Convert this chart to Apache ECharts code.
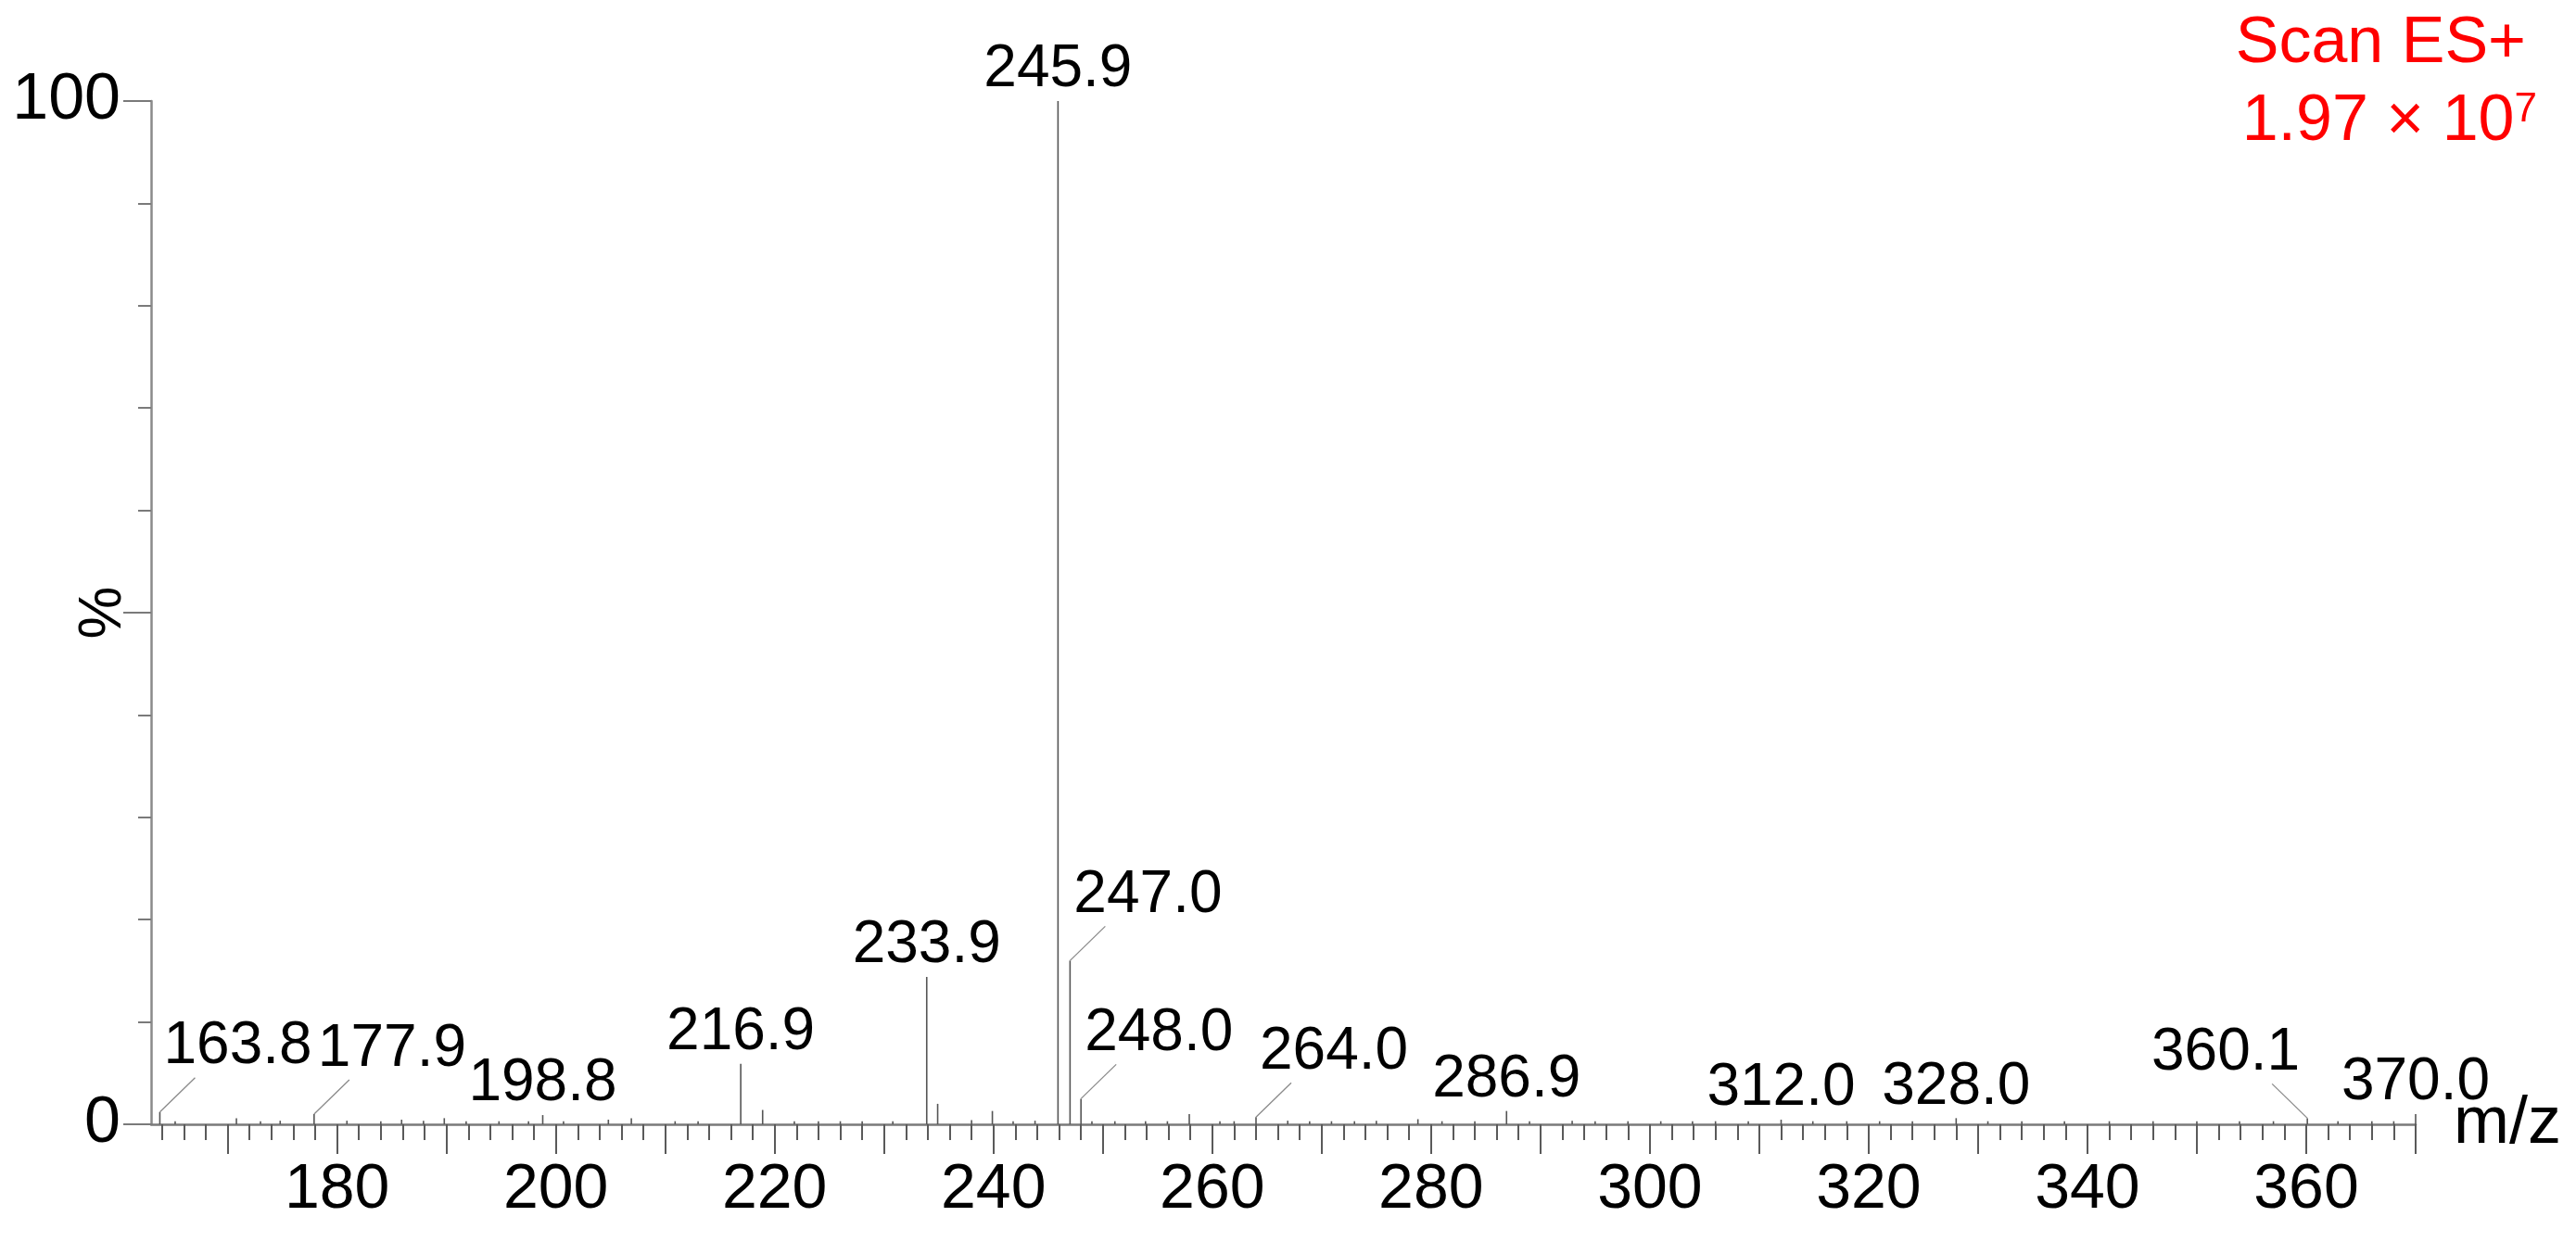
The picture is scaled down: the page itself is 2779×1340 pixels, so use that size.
<!DOCTYPE html>
<html>
<head>
<meta charset="utf-8">
<script src="https://cdn.jsdelivr.net/npm/echarts@6/dist/echarts.min.js"></script>
<style>
html,body{margin:0;padding:0;background:#ffffff;}
#chart{width:2779px;height:1340px;}
</style>
</head>
<body>
<div id="chart"></div>
<script>
// ---------------- data ----------------
const peakMz = [
  163.8, 165.2, 170.8, 173.0, 174.8, 177.9, 180.9, 184.0, 185.9, 187.9,
  189.8, 191.8, 194.8, 197.5, 198.8, 200.7, 204.8, 206.9, 210.9, 213.0,
  216.9, 218.9, 221.8, 224.0, 226.0, 228.0, 230.8, 233.9, 234.9, 238.0,
  239.9, 241.8, 243.8, 245.9, 247.0, 248.0, 249.0, 251.1, 253.9, 255.9,
  257.9, 260.7, 262.0, 264.0, 266.9, 268.9, 270.9, 273.0, 275.0, 278.8,
  281.0, 284.0, 286.9, 289.0, 292.9, 295.0, 298.0, 301.0, 303.9, 306.0,
  309.0, 312.0, 314.9, 318.0, 321.0, 324.0, 328.0, 330.9, 334.0, 337.9,
  342.0, 346.0, 350.0, 353.9, 357.0, 360.1, 362.9, 366.0, 368.0, 370.0
];
const peakIntensity = [
  1.2, 0.3, 0.6, 0.3, 0.35, 1.0, 0.35, 0.3, 0.45, 0.35,
  0.6, 0.3, 0.3, 0.3, 0.9, 0.3, 0.45, 0.6, 0.3, 0.3,
  5.9, 1.4, 0.3, 0.3, 0.3, 0.3, 0.3, 14.4, 2.0, 0.4,
  1.3, 0.3, 0.35, 100, 16.0, 2.5, 0.3, 0.3, 0.3, 0.3,
  1.0, 0.3, 0.3, 0.7, 0.35, 0.3, 0.3, 0.3, 0.35, 0.5,
  0.3, 0.3, 1.3, 0.3, 0.35, 0.3, 0.3, 0.3, 0.3, 0.3,
  0.3, 0.45, 0.3, 0.3, 0.3, 0.3, 0.6, 0.3, 0.3, 0.3,
  0.3, 0.3, 0.3, 0.3, 0.3, 0.6, 0.3, 0.3, 0.3, 1.0
];
const labeledMz = [163.8, 177.9, 198.8, 216.9, 233.9, 245.9, 247.0, 248.0, 264.0, 286.9, 312.0, 328.0, 360.1, 370.0];
const xMajorTicks = [170, 180, 190, 200, 210, 220, 230, 240, 250, 260, 270, 280, 290, 300, 310, 320, 330, 340, 350, 360, 370];
const xMinorTicks = [164, 166, 168, 170, 172, 174, 176, 178, 180, 182, 184, 186, 188, 190, 192, 194, 196, 198, 200,
  202, 204, 206, 208, 210, 212, 214, 216, 218, 220, 222, 224, 226, 228, 230, 232, 234, 236, 238, 240,
  242, 244, 246, 248, 250, 252, 254, 256, 258, 260, 262, 264, 266, 268, 270, 272, 274, 276, 278, 280,
  282, 284, 286, 288, 290, 292, 294, 296, 298, 300, 302, 304, 306, 308, 310, 312, 314, 316, 318, 320,
  322, 324, 326, 328, 330, 332, 334, 336, 338, 340, 342, 344, 346, 348, 350, 352, 354, 356, 358, 360,
  362, 364, 366, 368, 370];
const xTickLabels = [180, 200, 220, 240, 260, 280, 300, 320, 340, 360];
const yTickLabels = [0, 100];
const xAxisName = 'm/z';
const yAxisName = '%';
const scanMode = 'Scan ES+';
const ticBase = '1.97 × 10';
const ticExp = '7';

// ---------------- layout / style (not data) ----------------
const leaderSide = { '163.8': 'right', '177.9': 'right', '247.0': 'right', '248.0': 'right', '264.0': 'right', '360.1': 'left' };
const FONT = '"Liberation Sans", Arial, Helvetica, sans-serif';

function intensityOf(m) {
  let best = 0, d = Infinity;
  peakMz.forEach((p, i) => { if (Math.abs(p - m) < d) { d = Math.abs(p - m); best = i; } });
  return peakIntensity[best];
}

const chart = echarts.init(document.getElementById('chart'), null, { renderer: 'canvas' });

const option = {
  backgroundColor: '#ffffff',
  animation: false,
  grid: { left: 163, right: 173, top: 109, bottom: 127, containLabel: false, outerBoundsMode: 'none' },
  xAxis: [
    {
      type: 'value', min: 163, max: 370, position: 'bottom',
      name: xAxisName, nameLocation: 'end', nameGap: 41, nameMoveOverlap: false,
      nameTextStyle: { fontFamily: FONT, fontSize: 72, color: '#000', verticalAlign: 'middle', align: 'left' },
      axisLine: { show: true, lineStyle: { color: '#7a7a7a', width: 2.5 } },
      axisTick: { show: true, customValues: xMajorTicks, length: 32, lineStyle: { color: '#5a5a5a', width: 2 } },
      axisLabel: { show: true, customValues: xTickLabels, margin: 37, fontFamily: FONT, fontSize: 68, color: '#000' },
      splitLine: { show: false }
    },
    {
      type: 'value', min: 163, max: 370, position: 'bottom', offset: 0,
      axisLine: { show: false },
      axisTick: { show: true, customValues: xMinorTicks, length: 17, lineStyle: { color: '#5a5a5a', width: 2 } },
      axisLabel: { show: false },
      splitLine: { show: false }
    }
  ],
  yAxis: {
    type: 'value', min: 0, max: 100, interval: 50,
    name: yAxisName, nameLocation: 'middle', nameGap: 19, nameRotate: 90, nameMoveOverlap: false,
    nameTextStyle: { fontFamily: FONT, fontSize: 64, color: '#000' },
    axisLine: { show: true, lineStyle: { color: '#8a8a8a', width: 2.5 } },
    axisTick: { show: true, length: 30, lineStyle: { color: '#7a7a7a', width: 2 } },
    minorTick: { show: true, splitNumber: 5, length: 14, lineStyle: { color: '#7a7a7a', width: 2 } },
    axisLabel: { show: true, customValues: yTickLabels, margin: 33, fontFamily: FONT, fontSize: 70, color: '#000' },
    splitLine: { show: false },
    minorSplitLine: { show: false }
  },
  graphic: [
    { type: 'text', right: 54, top: 13, z: 10,
      style: { text: scanMode, font: '70px ' + FONT, fill: '#ff0000' } },
    { type: 'text', right: 42, top: 97, z: 10,
      style: {
        text: '{a|' + ticBase + '}{s|' + ticExp + '}',
        rich: {
          a: { fontSize: 70, fontFamily: FONT, fill: '#ff0000' },
          s: { fontSize: 44, fontFamily: FONT, fill: '#ff0000', verticalAlign: 'top' }
        }
      } }
  ],
  series: [
    {
      type: 'custom', name: 'peaks', xAxisIndex: 0, yAxisIndex: 0, clip: false,
      data: peakMz.map((m, i) => [m, peakIntensity[i]]),
      renderItem: function (params, api) {
        const m = api.value(0), v = api.value(1);
        const top = api.coord([m, v]);
        const base = api.coord([m, 0]);
        return { type: 'line', shape: { x1: top[0], y1: top[1], x2: base[0], y2: base[1] },
                 style: { stroke: '#555555', lineWidth: 1.6 } };
      }
    },
    {
      type: 'custom', name: 'labels', xAxisIndex: 0, yAxisIndex: 0, clip: false,
      data: labeledMz.map(m => [m, intensityOf(m)]),
      renderItem: function (params, api) {
        const m = api.value(0), v = api.value(1);
        const top = api.coord([m, v]);
        const txt = m.toFixed(1);
        const side = leaderSide[txt] || 'top';
        const font = '64px ' + FONT;
        const children = [];
        if (side === 'top') {
          children.push({ type: 'text', style: { text: txt, x: top[0], y: top[1] - 1.5, font: font, fill: '#000',
            align: 'center', verticalAlign: 'bottom', textAlign: 'center', textVerticalAlign: 'bottom' } });
        } else {
          const dir = side === 'right' ? 1 : -1;
          const ex = top[0] + dir * 38, ey = top[1] - 37;
          children.push({ type: 'line', shape: { x1: top[0], y1: top[1], x2: ex, y2: ey },
            style: { stroke: '#8a8a8a', lineWidth: 1.3 } });
          const tx = dir > 0 ? top[0] + 4 : top[0] - 8;
          children.push({ type: 'text', style: { text: txt, x: tx, y: ey - 1, font: font, fill: '#000',
            align: dir > 0 ? 'left' : 'right', verticalAlign: 'bottom',
            textAlign: dir > 0 ? 'left' : 'right', textVerticalAlign: 'bottom' } });
        }
        return { type: 'group', children: children };
      }
    }
  ]
};
chart.setOption(option);
</script>
</body>
</html>
